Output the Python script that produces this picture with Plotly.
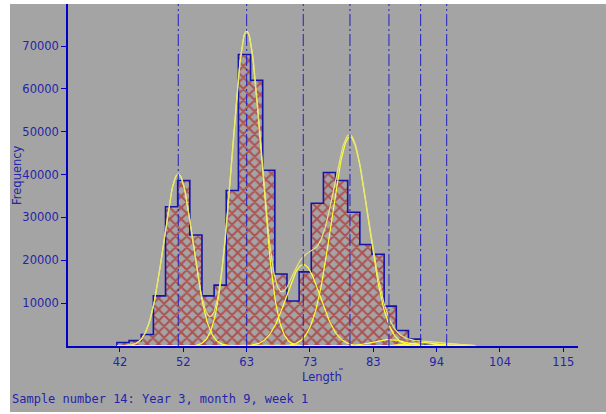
import numpy as np
import plotly.graph_objects as go

# ---- data ----
bin_left_edges = [41.5, 43.5, 45.5, 47.5, 49.5, 51.5, 53.5, 55.5, 57.5, 59.5, 61.5, 63.5, 65.5,
                  67.5, 69.5, 71.5, 73.5, 75.5, 77.5, 79.5, 81.5, 83.5, 85.5, 87.5, 89.5, 91.5]
frequencies = [800, 1250, 2700, 11700, 32500, 38600, 25900, 11700, 14200, 36300, 68000, 62000, 41000,
               16800, 10500, 17300, 33300, 40500, 38600, 31200, 23700, 21400, 9300, 3600, 1600, 400]
bin_width = 2.0

# fitted normal components (mean, peak height per bin, sd)
comp_means = [51.6, 62.86, 72.18, 79.87, 86.29, 91.51, 95.8]
comp_peaks = [40100, 73500, 19000, 48800, 1500, 800, 500]
comp_sds = [2.4, 2.4, 2.8, 3.0, 2.6, 2.6, 2.6]

x_tick_labels = ["42", "52", "63", "73", "83", "94", "104", "115"]
y_tick_values = [10000, 20000, 30000, 40000, 50000, 60000, 70000]
caption = "Sample number 14: Year 3, month 9, week 1"

# ---- styling ----
GRAY = "#a4a4a4"
BLUE = "#0000c8"
TXT = "#2424a8"
W, H = 606, 414
ML, MR, MT, MB = 68, 28, 4, 68
PW, PH = W - ML - MR, H - MT - MB


def px(xp):
    return (xp - ML) / PW


def py(yp):
    return (H - MB - yp) / PH


fig = go.Figure()

centers = [e + bin_width / 2 for e in bin_left_edges]
fig.add_trace(go.Bar(
    x=centers, y=frequencies, width=bin_width,
    marker=dict(color=GRAY, line=dict(width=0),
                pattern=dict(shape="x", fgcolor="#b80000", bgcolor=GRAY, size=8, solidity=0.45)),
    hoverinfo="skip", showlegend=False,
))

# step outline
sx, sy = [bin_left_edges[0]], [0]
for e, f in zip(bin_left_edges, frequencies):
    sx += [e, e + bin_width]
    sy += [f, f]
sx.append(bin_left_edges[-1] + bin_width)
sy.append(0)
fig.add_trace(go.Scatter(x=sx, y=sy, mode="lines", line=dict(color="#1414a8", width=1.6),
                         hoverinfo="skip", showlegend=False))

# fitted curves
xc = np.linspace(41.5, 100.5, 400)
total = np.zeros_like(xc)
for m, p, s in zip(comp_means, comp_peaks, comp_sds):
    yc = p * np.exp(-0.5 * ((xc - m) / s) ** 2)
    total += yc
    fig.add_trace(go.Scatter(x=xc, y=yc, mode="lines", line=dict(color="#ffff30", width=1.2),
                             hoverinfo="skip", showlegend=False))
fig.add_trace(go.Scatter(x=xc, y=total, mode="lines", line=dict(color="#e6e67a", width=1.2),
                         hoverinfo="skip", showlegend=False))

shapes = [
    dict(type="rect", xref="paper", yref="paper", x0=px(10), x1=px(W), y0=py(412), y1=py(4),
         fillcolor=GRAY, line=dict(width=0), layer="below"),
]
for m in comp_means:
    shapes.append(dict(type="line", xref="x", yref="paper", x0=m, x1=m, y0=0, y1=1,
                       line=dict(color="#2020c0", width=1, dash="12px,3px,2px,3px"), layer="above"))
shapes.append(dict(type="line", xref="paper", yref="paper", x0=px(339), x1=px(343), y0=py(369), y1=py(369),
                   line=dict(color=TXT, width=1)))

tick_vals = list(np.linspace(42, 115, len(x_tick_labels)))

fig.update_layout(
    width=W, height=H,
    margin=dict(l=ML, r=MR, t=MT, b=MB, pad=0),
    paper_bgcolor="white", plot_bgcolor=GRAY,
    bargap=0, showlegend=False,
    shapes=shapes,
    font=dict(family="DejaVu Sans", size=11.5, color=TXT),
    xaxis=dict(range=[33.44, 117.42], showgrid=False, zeroline=False, showline=True, linecolor=BLUE,
               linewidth=1.5, ticks="outside", ticklen=4, tickcolor=BLUE, tickvals=tick_vals,
               ticktext=x_tick_labels, tickfont=dict(family="DejaVu Sans", size=11.5, color=TXT),
               automargin=False),
    yaxis=dict(range=[0, 79800], showgrid=False, zeroline=False, showline=True, linecolor=BLUE,
               linewidth=1.5, ticks="outside", ticklen=5, tickcolor=BLUE, tickvals=y_tick_values,
               ticktext=[str(v) for v in y_tick_values],
               tickfont=dict(family="DejaVu Sans", size=11.5, color=TXT), automargin=False),
    annotations=[
        dict(text="Frequency", xref="paper", yref="paper", x=px(17), y=py(175), showarrow=False,
             xanchor="center", yanchor="middle",
             textangle=-90, font=dict(family="DejaVu Sans", size=11.5, color=TXT)),
        dict(text="Length", xref="paper", yref="paper", x=px(322), y=py(377), showarrow=False,
             xanchor="center", yanchor="middle",
             font=dict(family="DejaVu Sans", size=11.5, color=TXT)),
        dict(text=caption, xref="paper", yref="paper", x=px(10), y=py(399), xanchor="left",
             yanchor="middle",
             showarrow=False, font=dict(family="DejaVu Sans Mono", size=12, color=TXT)),
    ],
)

fig.write_html("out.html", config={"displayModeBar": False},
               post_script="document.body.style.margin='0';")
